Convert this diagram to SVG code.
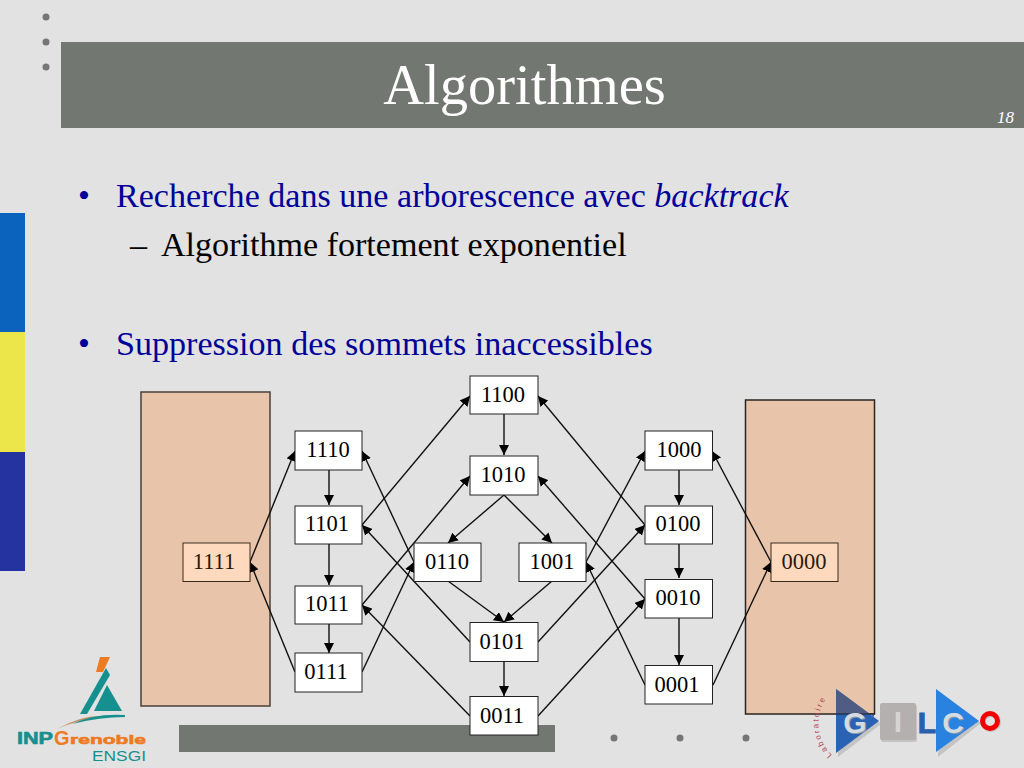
<svg xmlns="http://www.w3.org/2000/svg" xmlns:xlink="http://www.w3.org/1999/xlink" width="1024" height="768" viewBox="0 0 1024 768">
<style>
text{font-family:"Liberation Serif","Times New Roman",serif}
.n{fill:#fff;stroke:#222;stroke-width:1}
.s{fill:#ffd9bd;stroke:#3a2a1e;stroke-width:1}
.l{font-size:22.500px;fill:#000;text-anchor:middle}
.ls{font-size:22.500px;fill:#2a1a0e;text-anchor:middle}
.z{fill:#e8c5aa;stroke:#4a4038;stroke-width:1.5}
.e{stroke:#111;stroke-width:1.4;fill:none;marker-end:url(#a)}
.d{fill:#767676}
.b{font-size:34.100px;fill:#000099}
.k{font-size:34.100px;fill:#000}
.g{font-family:"Liberation Sans",sans-serif;font-weight:bold}
.gl{font-family:"Liberation Sans",sans-serif;font-weight:bold;font-size:30px;text-anchor:middle}
</style>
<defs>
<marker id="a" markerUnits="userSpaceOnUse" markerWidth="11" markerHeight="10" refX="10" refY="5" orient="auto"><path d="M0 0L10 5L0 10z" fill="#000"/></marker>
<path id="arc" d="M832 755A44 44 0 0 1 836 688"/>
</defs>
<rect width="1024" height="768" fill="#e2e2e2"/>
<g id="background">
<rect x="61" y="42" width="963" height="86" fill="#737772"/>
<circle class="d" cx="46" cy="17" r="3.500"/><circle class="d" cx="46" cy="42" r="3.500"/><circle class="d" cx="46" cy="67" r="3.500"/>
<rect x="0" y="213" width="25" height="119" fill="#0b63bd"/>
<rect x="0" y="332" width="25" height="120" fill="#ece64a"/>
<rect x="0" y="452" width="25" height="119" fill="#2533a0"/>
<rect x="179" y="725" width="376" height="27" fill="#737772"/>
<circle class="d" cx="614" cy="738" r="3.500"/><circle class="d" cx="680" cy="738" r="3.500"/><circle class="d" cx="746" cy="738" r="3.500"/>
</g>
<g id="title">
<text x="524.500" y="104" font-size="56.500" fill="#fff" text-anchor="middle">Algorithmes</text>
<text x="1014" y="123" font-size="17" font-style="italic" fill="#fff" text-anchor="end">18</text>
</g>
<g id="bullets">
<text x="78" y="207" class="b">•</text>
<text x="116" y="207" class="b">Recherche dans une arborescence avec <tspan font-style="italic">backtrack</tspan></text>
<text x="130" y="256" class="k">–</text>
<text x="161" y="256" class="k">Algorithme fortement exponentiel</text>
<text x="78" y="355" class="b">•</text>
<text x="116" y="355" class="b">Suppression des sommets inaccessibles</text>
</g>
<g id="zones">
<rect id="zone-left" class="z" x="141" y="392" width="129" height="314"/>
<rect id="zone-right" class="z" x="745.500" y="400" width="129" height="314" style="stroke:#2a2420"/>
</g>
<g id="connectors">
<path class="e" d="M250 562L295 451"/>
<path class="e" d="M295 672L250 562"/>
<path class="e" d="M329 470V505"/>
<path class="e" d="M329 544V585"/>
<path class="e" d="M329 624V653"/>
<path class="e" d="M362 525L470 396"/>
<path class="e" d="M414 562L362 451"/>
<path class="e" d="M470 642L362 525"/>
<path class="e" d="M362 605L470 476"/>
<path class="e" d="M362 672L414 562"/>
<path class="e" d="M470 716L362 605"/>
<path class="e" d="M504 414V455"/>
<path class="e" d="M504 495L448 543"/>
<path class="e" d="M504 495L552 543"/>
<path class="e" d="M448 581L504 622"/>
<path class="e" d="M552 581L504 622"/>
<path class="e" d="M504 661V696"/>
<path class="e" d="M645 525L538 396"/>
<path class="e" d="M645 599L538 476"/>
<path class="e" d="M586 562L645 451"/>
<path class="e" d="M538 642L645 525"/>
<path class="e" d="M538 716L645 599"/>
<path class="e" d="M645 685L586 562"/>
<path class="e" d="M679 470V505"/>
<path class="e" d="M679 544V578"/>
<path class="e" d="M679 618V665"/>
<path class="e" d="M771 562L712 451"/>
<path class="e" d="M713 685L771 562"/>
</g>
<g id="n1111"><rect class="s" x="183" y="543" width="67" height="38.500"/><text class="ls" x="214" y="569">1111</text></g>
<g id="n1110"><rect class="n" x="295" y="431" width="67" height="39"/><text class="l" x="328" y="457">1110</text></g>
<g id="n1101"><rect class="n" x="295" y="506" width="67" height="38"/><text class="l" x="327" y="531">1101</text></g>
<g id="n1011"><rect class="n" x="295" y="586" width="67" height="38"/><text class="l" x="327" y="611">1011</text></g>
<g id="n0111"><rect class="n" x="295" y="653" width="67" height="39"/><text class="l" x="326" y="679">0111</text></g>
<g id="n1100"><rect class="n" x="470" y="376" width="68" height="38"/><text class="l" x="503" y="402">1100</text></g>
<g id="n1010"><rect class="n" x="470" y="456" width="68" height="39"/><text class="l" x="503" y="482">1010</text></g>
<g id="n0110"><rect class="n" x="414" y="543" width="67" height="38.500"/><text class="l" x="447" y="569">0110</text></g>
<g id="n1001"><rect class="n" x="519" y="543" width="67" height="38.500"/><text class="l" x="552" y="569">1001</text></g>
<g id="n0101"><rect class="n" x="470" y="622.500" width="68" height="39"/><text class="l" x="502" y="649">0101</text></g>
<g id="n0011"><rect class="n" x="470" y="696.500" width="68" height="38.500"/><text class="l" x="502" y="723">0011</text></g>
<g id="n1000"><rect class="n" x="645" y="431" width="67.500" height="39"/><text class="l" x="679" y="457">1000</text></g>
<g id="n0100"><rect class="n" x="645" y="506" width="67.500" height="38"/><text class="l" x="678" y="531">0100</text></g>
<g id="n0010"><rect class="n" x="645" y="579.500" width="67.500" height="38.500"/><text class="l" x="678" y="605">0010</text></g>
<g id="n0001"><rect class="n" x="645" y="665.500" width="67.500" height="38.500"/><text class="l" x="677" y="692">0001</text></g>
<g id="n0000"><rect class="s" x="771" y="543" width="67" height="38.500"/><text class="ls" x="804" y="569">0000</text></g>
<g id="logo-inp">
<path d="M100 657h10l-7 15h-7z" fill="#ee7a22"/>
<path d="M106 668l4 7-23 39h-7z" fill="#16908f"/>
<path d="M107 685L122 711H94z" fill="#16908f"/>
<path d="M57 729Q80 716 100 716L100 717Q80 719 57 729z" fill="#c98a60"/>
<path d="M72 724Q95 713 125 715V717Q100 717 72 724z" fill="#16908f"/>
<text class="g" x="17" y="744" font-size="16" fill="#16908f" textLength="36" lengthAdjust="spacingAndGlyphs" stroke="#16908f" stroke-width=".6">INP</text>
<text class="g" x="54" y="745" font-size="20" fill="#ee7a22">G</text>
<text class="g" x="70" y="744" font-size="13" fill="#ee7a22" textLength="76" lengthAdjust="spacingAndGlyphs" stroke="#ee7a22" stroke-width=".6">renoble</text>
<text x="92" y="761" font-size="15" fill="#16908f" textLength="54" lengthAdjust="spacingAndGlyphs" style="font-family:'Liberation Sans',sans-serif">ENSGI</text>
</g>
<g id="logo-gilco">
<text font-size="8" fill="#b04050" letter-spacing="2" style="font-family:'Liberation Sans',sans-serif"><textPath xlink:href="#arc">Laboratoire</textPath></text>
<path d="M838 692L881 724L838 757z" fill="#c4c4c4"/>
<path d="M836 689L879 721L836 753z" fill="#2a62b4"/>
<path d="M836 689L874 717V714H836z" fill="#4f5d84"/>
<path d="M836 714H874.500" stroke="#1c1c24" stroke-width="1.200" fill="none"/>
<text class="gl" x="856" y="734" fill="#8f9aa4">G</text>
<text class="gl" x="855" y="733" fill="#d3dce2">G</text>
<rect x="881" y="705" width="36" height="37" rx="2" fill="#c4c4c4"/>
<rect x="880" y="703" width="36" height="37" rx="2" fill="#b5b0b0"/>
<text class="gl" x="898" y="732" fill="#d8d4d4">I</text>
<text class="gl" x="927" y="733" fill="#2a5fae" stroke="#2a5fae" stroke-width="1">L</text>
<path d="M938 692L981 723L938 757z" fill="#c4c4c4"/>
<path d="M936 689L979 721L936 752z" fill="#2a82e0"/>
<text class="gl" x="954" y="734" fill="#8f9aa4">C</text>
<text class="gl" x="953" y="733" fill="#d3dce2">C</text>
<circle cx="991" cy="722" r="7.500" fill="none" stroke="#c4c4c4" stroke-width="5"/>
<circle cx="990" cy="721" r="7.500" fill="none" stroke="#f00000" stroke-width="5"/>
</g>
</svg>
